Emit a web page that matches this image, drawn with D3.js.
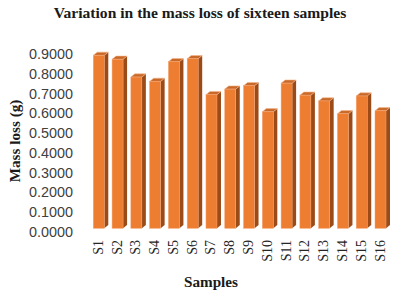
<!DOCTYPE html>
<html><head><meta charset="utf-8">
<script src="https://cdn.jsdelivr.net/npm/d3@7"></script>
<style>body{margin:0;background:#fff}svg{display:block}</style>
</head><body>
<script>
const samples = ["S1","S2","S3","S4","S5","S6","S7","S8","S9","S10","S11","S12","S13","S14","S15","S16"];
const massLoss = [0.876,0.856,0.766,0.744,0.844,0.859,0.677,0.705,0.722,0.590,0.735,0.674,0.645,0.580,0.670,0.595];
const yTicks = [0,0.1,0.2,0.3,0.4,0.5,0.6,0.7,0.8,0.9];
const title = "Variation in the mass loss of sixteen samples";
const yTitle = "Mass loss (g)";
const xTitle = "Samples";

const W = 397, H = 297;
const svg = d3.select("body").append("svg").attr("width", W).attr("height", H);

const y = d3.scaleLinear().domain([0, 0.9]).range([231.7, 54]);
const x = d3.scaleBand().domain(samples).range([83.9, 395.4]).paddingInner(0.4143).paddingOuter(0.5);

const off = 3.4, dx = 4, dy = 3.2;

// title
svg.append("text").attr("x", 200).attr("y", 18).attr("text-anchor", "middle")
  .attr("font-family", "Liberation Serif").attr("font-weight", "bold").attr("font-size", 15.6)
  .attr("fill", "#1a1a1a").text(title);

// y axis
const yAxis = d3.axisLeft(y).tickValues(yTicks).tickFormat(d3.format(".4f")).tickSize(0).tickPadding(0);
const gy = svg.append("g").attr("transform", "translate(73,0)").call(yAxis);
gy.select(".domain").remove();
gy.selectAll("text").attr("font-family", "Liberation Sans").attr("font-size", 14.4).attr("fill", "#404040");

// bars
const g = svg.append("g");
const bw = x.bandwidth();
massLoss.forEach((v, i) => {
  const x0 = x(samples[i]);
  const yt = y(v) - off, yb = y(0) - off;
  g.append("path").attr("d", `M${x0+bw},${yt} L${x0+bw+dx},${yt-dy} L${x0+bw+dx},${yb-dy} L${x0+bw},${yb} Z`)
    .attr("fill", "#9A4B18");
  g.append("path").attr("d", `M${x0},${yt} L${x0+dx},${yt-dy} L${x0+bw+dx},${yt-dy} L${x0+bw},${yt} Z`)
    .attr("fill", "#C8692A").attr("stroke", "#F6B68A").attr("stroke-width", 0.6);
  g.append("rect").attr("x", x0).attr("y", yt).attr("width", bw).attr("height", yb - yt)
    .attr("fill", "#ED7D31").attr("stroke", "#F4A470").attr("stroke-width", 0.5);
});

// x axis labels
const gx = svg.append("g");
samples.forEach(s => {
  gx.append("text")
    .attr("transform", `translate(${x(s) + bw/2 + 4},240) rotate(-90)`)
    .attr("text-anchor", "end")
    .attr("font-family", "Liberation Serif").attr("font-size", 14).attr("fill", "#262626")
    .text(s);
});

// axis titles
svg.append("text").attr("x", 211).attr("y", 287).attr("text-anchor", "middle")
  .attr("font-family", "Liberation Serif").attr("font-weight", "bold").attr("font-size", 15.2)
  .attr("fill", "#1a1a1a").text(xTitle);
svg.append("text").attr("transform", "translate(20,141) rotate(-90)").attr("text-anchor", "middle")
  .attr("font-family", "Liberation Serif").attr("font-weight", "bold").attr("font-size", 15.2)
  .attr("fill", "#1a1a1a").text(yTitle);
</script>
</body></html>
